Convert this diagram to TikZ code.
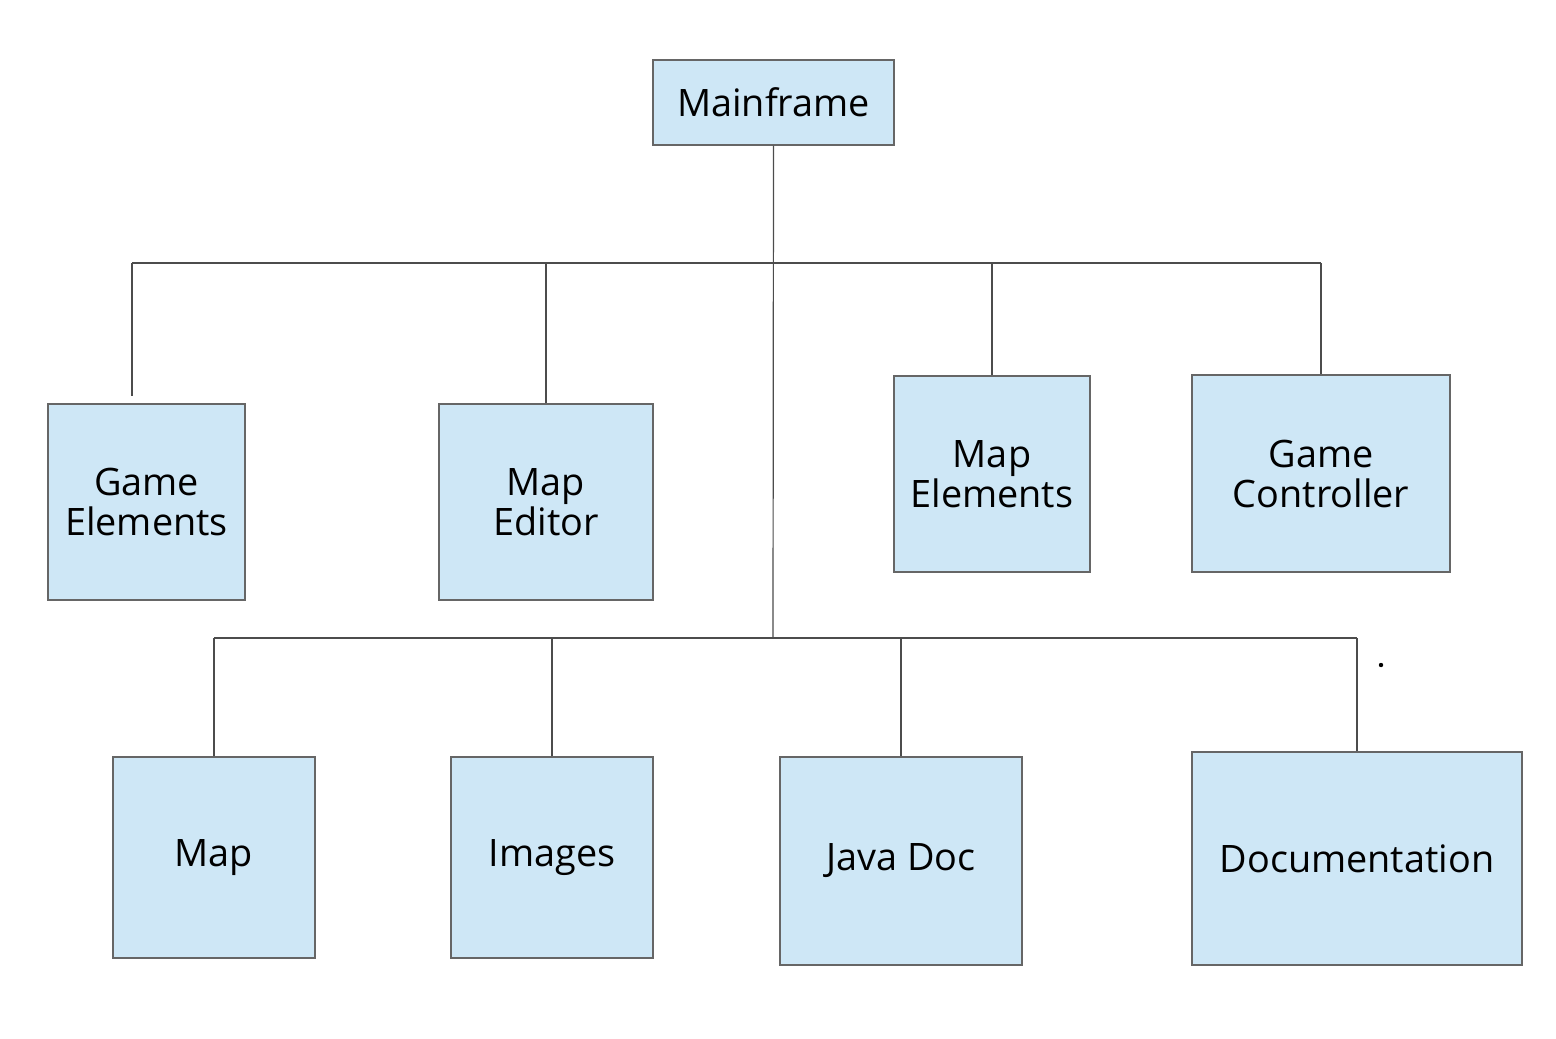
\documentclass[tikz,border=0pt]{standalone}
\usepackage{fontspec}
\setmainfont{Open Sans}
\definecolor{boxblue}{HTML}{CEE7F6}
\definecolor{edgegray}{HTML}{666666}
\begin{document}
\begin{tikzpicture}[x=1pt,y=-1pt,
  unit/.style={draw=edgegray, fill=boxblue, line width=1.2pt, inner sep=0pt, align=center, font=\fontsize{37.8}{40}\selectfont},
  link/.style={draw=black!70, line width=1.2pt}]
\useasboundingbox (0,0) rectangle (1556,1039);

% top
\node[unit, minimum width=241pt, minimum height=85pt] (main) at (773.5,102.5) {Mainframe};

% first row
\node[unit, minimum width=197pt, minimum height=196pt] (gameel) at (146.5,502) {Game\\Elements};
\node[unit, minimum width=214pt, minimum height=196pt] (mapedit) at (546,502) {Map\\Editor};
\node[unit, minimum width=196pt, minimum height=196pt] (mapel) at (992,474) {Map\\Elements};
\node[unit, minimum width=258pt, minimum height=197pt] (gamectl) at (1321,473.5) {Game\\Controller};

% second row
\node[unit, minimum width=202pt, minimum height=201pt] (map) at (214,857.5) {Map};
\node[unit, minimum width=202pt, minimum height=201pt] (images) at (552,857.5) {Images};
\node[unit, minimum width=242pt, minimum height=208pt] (javadoc) at (901,861) {Java Doc};
\node[unit, minimum width=330pt, minimum height=213pt] (docu) at (1357,858.5) {Documentation};

% junctions
\coordinate (topbus) at (773,263);
\coordinate (lowbus) at (773,638);
\coordinate (geturn) at (132,263);
\coordinate (getop) at (132,396);
\coordinate (gcturn) at (1321,263);
\coordinate (mapturn) at (214,638);
\coordinate (docturn) at (1357,638);

\draw[link] (main.south) -- (lowbus);
\draw[link] (geturn) -- (gcturn);
\draw[link] (geturn) -- (getop);
\draw[link] (mapedit.north) -- (mapedit.north |- topbus);
\draw[link] (mapel.north) -- (mapel.north |- topbus);
\draw[link] (gamectl.north) -- (gcturn);

\draw[link] (mapturn) -- (docturn);
\draw[link] (map.north) -- (mapturn);
\draw[link] (images.north) -- (images.north |- lowbus);
\draw[link] (javadoc.north) -- (javadoc.north |- lowbus);
\draw[link] (docu.north) -- (docturn);

\fill (1381,665) circle (2.2pt);

\end{tikzpicture}
\end{document}
